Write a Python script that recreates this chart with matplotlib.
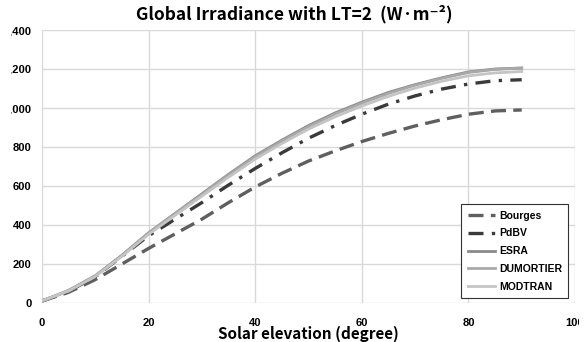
import matplotlib
matplotlib.use("Agg")
import matplotlib.pyplot as plt
from matplotlib.transforms import Bbox, TransformedBbox

elev = [0, 5, 10, 15, 20, 25, 30, 35, 40, 45, 50, 55, 60, 65, 70, 75, 80, 85, 90]
bourges = [10, 55, 120, 200, 280, 355, 430, 515, 595, 665, 728, 780, 828, 870, 908, 940, 968, 985, 990]
pdbv = [10, 60, 135, 240, 345, 430, 515, 605, 690, 770, 845, 910, 968, 1020, 1062, 1097, 1123, 1140, 1145]
esra = [10, 65, 140, 245, 360, 460, 560, 660, 755, 835, 910, 975, 1030, 1080, 1120, 1155, 1185, 1200, 1205]
dumortier = [8, 62, 138, 243, 358, 458, 557, 656, 750, 830, 905, 970, 1025, 1075, 1117, 1152, 1182, 1198, 1205]
modtran = [12, 62, 136, 240, 352, 450, 548, 645, 738, 818, 892, 955, 1010, 1060, 1102, 1137, 1165, 1180, 1187]

xticks = [0, 20, 40, 60, 80, 100]
yticks = [0, 200, 400, 600, 800, 1000, 1200, 1400]
xticklabels = ["0", "20", "40", "60", "80", "100"]
yticklabels = ["0", "200", "400", "600", "800", "1,000", "1,200", "1,400"]

fig = plt.figure(figsize=(5.88, 3.42), dpi=100)
ax = fig.add_axes([42/588, 1-303/342, 533/588, 273/342])

ax.plot(elev, bourges, color="#5f5f5f", lw=2.4, dashes=(4.5, 2.2), label="Bourges")
ax.plot(elev, pdbv, color="#3a3a3a", lw=2.4, dashes=(4.5, 2.5, 1, 2.5), label="PdBV")
ax.plot(elev, esra, color="#8a8a8a", lw=2.0, label="ESRA")
ax.plot(elev, dumortier, color="#a8a8a8", lw=2.0, label="DUMORTIER")
ax.plot(elev, modtran, color="#c4c4c4", lw=2.0, label="MODTRAN")

ax.set_xlim(0, 100)
ax.set_ylim(0, 1400)
ax.set_xticks(xticks)
ax.set_yticks(yticks)
ax.set_xticklabels(xticklabels, fontfamily="Liberation Sans", fontweight="bold", fontsize=8)
ax.set_yticklabels(yticklabels, fontfamily="Liberation Sans", fontweight="bold", fontsize=8)
ax.tick_params(axis="both", length=0)
ax.tick_params(axis="y", pad=7.5)
ax.tick_params(axis="x", pad=11)
ax.grid(True, color="#d9d9d9", lw=1.0)
ax.set_axisbelow(True)
for s in ax.spines.values():
    s.set_visible(False)

# chart-area clipping like the original (labels cut at the chart edges)
clip = TransformedBbox(Bbox.from_extents(10.5/588, 0, 578.5/588, 1), fig.transFigure)
for t in ax.get_xticklabels() + ax.get_yticklabels():
    t.set_clip_box(clip)
    t.set_clip_on(True)

ax.set_xlabel("Solar elevation (degree)", family=["Noto Sans CJK KR", "DejaVu Sans"],
              fontweight="bold", fontsize=11)
ax.xaxis.set_label_coords(0.5, -0.085)

fig.text(0.5, 1-14/342, "Global Irradiance with LT=2  (W·m⁻²)",
         family=["Noto Sans CJK KR", "DejaVu Sans"], fontweight="bold", fontsize=12.5,
         ha="center", va="center")

leg = ax.legend(loc="lower right", bbox_to_anchor=(0.987, 0.018), borderaxespad=0,
                prop={"family": "Liberation Sans", "weight": "bold", "size": 7.5},
                fancybox=False, framealpha=1, edgecolor="#333333",
                handlelength=2.6, labelspacing=0.75, borderpad=0.6, handletextpad=0.4)
leg.get_frame().set_linewidth(0.8)

fig.savefig("out.png", dpi=100)
